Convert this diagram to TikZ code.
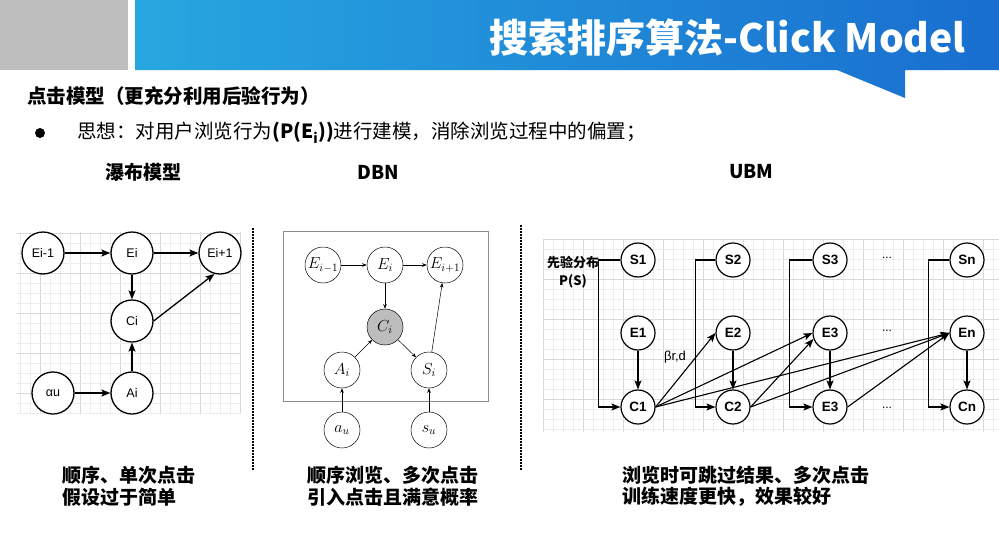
\documentclass[tikz,border=0pt]{standalone}
\usepackage{fix-cm}
\usepackage{fontspec}
\setmainfont{Noto Sans CJK SC}
\newfontfamily\labfont{Liberation Sans}
\usetikzlibrary{arrows.meta}

\definecolor{hdrgray}{HTML}{BEBEBE}
\definecolor{bannerL}{HTML}{27A7E0}
\definecolor{bannerR}{HTML}{196ECF}
\definecolor{gridminor}{HTML}{ECECEC}
\definecolor{gridmajor}{HTML}{D8D8D8}
\definecolor{framegray}{HTML}{8C8C8C}
\definecolor{clickfill}{HTML}{BDBDBD}

\tikzset{
  wnode/.style={circle, draw, line width=1.3pt, minimum size=42pt, inner sep=0pt, fill=white,
    font=\labfont\fontsize{12.5}{14}\selectfont},
  dnode/.style={circle, draw, line width=0.5pt, minimum size=36pt, inner sep=0pt, fill=white,
    font=\fontsize{16}{18}\selectfont},
  unode/.style={circle, draw, line width=1.2pt, minimum size=34pt, inner sep=0pt, fill=white,
    font=\labfont\bfseries\fontsize{13.5}{15}\selectfont},
  warr/.style={-{Stealth[length=9pt,width=7pt,inset=2pt]}, line width=1.3pt},
  uarr/.style={-{Stealth[length=9pt,width=7pt,inset=2pt]}, line width=1.1pt},
  darr/.style={-{Stealth[length=4.5pt,width=3.5pt]}, line width=0.5pt},
  heading/.style={anchor=west, inner sep=0pt, font=\fontsize{19}{22}\selectfont\bfseries},
  caption/.style={anchor=west, inner sep=0pt, font=\fontsize{19}{22}\selectfont\bfseries},
  sep/.style={line width=2pt, dash pattern=on 1.6pt off 1.4pt},
  dots/.style={inner sep=0pt, font=\labfont\fontsize{12}{14}\selectfont},
}

\begin{document}
\begin{tikzpicture}[x=1pt,y=-1pt]
\useasboundingbox (0,0) rectangle (999,533);
\fill[white] (0,0) rectangle (999,533);

% ---------- header ----------
\fill[hdrgray] (0,0) rectangle (128,70);
\shade[left color=bannerL, right color=bannerR]
  (135,0) -- (999,0) -- (999,70) -- (905,70) -- (905,98) -- (837,70) -- (135,70) -- cycle;
\node[anchor=east, inner sep=0pt, text=white, font=\fontsize{39}{44}\selectfont\bfseries]
  (title) at (966,38) {搜索排序算法-Click Model};

\node[anchor=west, inner sep=0pt, font=\fontsize{19.5}{22}\selectfont\bfseries]
  (subtitle) at (27,96) {点击模型（更充分利用后验行为）};

\node[circle, fill=black, minimum size=10pt, inner sep=0pt] (bullet) at (40,133) {};
\node[anchor=west, inner sep=0pt, font=\fontsize{19.5}{22}\selectfont]
  (idea) at (77,133) {思想：对用户浏览行为\textbf{(P(E\textsubscript{i}))}进行建模，消除浏览过程中的偏置；};

\node[heading] (h1) at (105,172) {瀑布模型};
\node[heading] (h2) at (357,172) {DBN};
\node[heading] (h3) at (729,172) {UBM};

% ---------- separators ----------
\coordinate (sepAtop) at (253,228);
\coordinate (sepAbot) at (253,470);
\coordinate (sepBtop) at (521,225);
\coordinate (sepBbot) at (521,470);
\draw[sep] (sepAtop) -- (sepAbot);
\draw[sep] (sepBtop) -- (sepBbot);

% ---------- cascade model ----------
\foreach \x in {20,30,...,240} {
  \pgfmathtruncatemacro{\m}{mod(\x,40)==0 ? 1 : 0}
  \ifnum\m=1 \draw[gridmajor, line width=0.5pt] (\x,232) -- (\x,413);
  \else \draw[gridminor, line width=0.5pt] (\x,232) -- (\x,413); \fi
}
\foreach \y in {233,243,...,413} {
  \pgfmathtruncatemacro{\m}{mod(\y-233,40)==0 ? 1 : 0}
  \ifnum\m=1 \draw[gridmajor, line width=0.5pt] (17,\y) -- (240,\y);
  \else \draw[gridminor, line width=0.5pt] (17,\y) -- (240,\y); \fi
}

\node[wnode] (wEm) at (43,253) {Ei-1};
\node[wnode] (wE)  at (132,253) {Ei};
\node[wnode] (wEp) at (220,253) {Ei+1};
\node[wnode] (wC)  at (132,321) {Ci};
\node[wnode] (wa)  at (53,393) {αu};
\node[wnode] (wA)  at (132,393) {Ai};

\draw[warr] (wEm) -- (wE);
\draw[warr] (wE) -- (wEp);
\draw[warr] (wE) -- (wC);
\draw[warr] (wC.east) -- (wEp.-105);
\draw[warr] (wa) -- (wA);
\draw[warr] (wA) -- (wC);

% ---------- DBN ----------
\node[draw=framegray, line width=0.7pt, minimum width=205pt, minimum height=170pt, inner sep=0pt]
  (frame) at (385.5,316) {};

\node[dnode] (dEm) at (323,265) {$E_{i-1}$};
\node[dnode] (dE)  at (385,265) {$E_i$};
\node[dnode] (dEp) at (445,265) {$E_{i+1}$};
\node[dnode, fill=clickfill] (dC) at (385,327) {$C_i$};
\node[dnode] (dA)  at (342,370) {$A_i$};
\node[dnode] (dS)  at (429,370) {$S_i$};
\node[dnode] (da)  at (342,430) {$a_u$};
\node[dnode] (ds)  at (429,430) {$s_u$};

\draw[darr] (dEm) -- (dE);
\draw[darr] (dE) -- (dEp);
\draw[darr] (dE) -- (dC);
\draw[darr] (dA) -- (dC);
\draw[darr] (dC) -- (dS);
\draw[darr] (dS) -- (dEp);
\draw[darr] (da) -- (dA);
\draw[darr] (ds) -- (dS);

% ---------- UBM ----------
\foreach \x in {543,553,...,999} {
  \pgfmathtruncatemacro{\m}{mod(\x-543,40)==0 ? 1 : 0}
  \ifnum\m=1 \draw[gridmajor, line width=0.5pt] (\x,239) -- (\x,432);
  \else \draw[gridminor, line width=0.5pt] (\x,239) -- (\x,432); \fi
}
\foreach \y in {239,249,...,432} {
  \pgfmathtruncatemacro{\m}{mod(\y-239,40)==0 ? 1 : 0}
  \ifnum\m=1 \draw[gridmajor, line width=0.5pt] (543,\y) -- (999,\y);
  \else \draw[gridminor, line width=0.5pt] (543,\y) -- (999,\y); \fi
}

\node[anchor=center, inner sep=0pt, align=center, font=\fontsize{13}{18}\selectfont\bfseries]
  (prior) at (573,272) {先验分布\\P(S)};

\node[unode] (S1) at (638,260) {S1};
\node[unode] (S2) at (733,260) {S2};
\node[unode] (S3) at (830,260) {S3};
\node[unode] (Sn) at (967,260) {Sn};
\node[unode] (E1) at (638,333) {E1};
\node[unode] (E2) at (733,333) {E2};
\node[unode] (E3) at (830,333) {E3};
\node[unode] (En) at (967,333) {En};
\node[unode] (C1) at (638,407) {C1};
\node[unode] (C2) at (733,407) {C2};
\node[unode] (C3) at (830,407) {E3};
\node[unode] (Cn) at (967,407) {Cn};

\node[dots] (dotS) at (887,258) {...};
\node[dots] (dotE) at (887,331) {...};
\node[dots] (dotC) at (887,408) {...};

\node[anchor=center, inner sep=0pt, font=\labfont\fontsize{13}{14}\selectfont]
  (beta) at (675,357) {βr,d};

\draw[uarr] (S1.west) -- ++(-22,0) |- (C1.west);
\draw[uarr] (S2.west) -- ++(-20,0) |- (C2.west);
\draw[uarr] (S3.west) -- ++(-23,0) |- (C3.west);
\draw[uarr] (Sn.west) -- ++(-21,0) |- (Cn.west);

\draw[uarr] (E1) -- (C1);
\draw[uarr] (E2) -- (C2);
\draw[uarr] (E3) -- (C3);
\draw[uarr] (En) -- (Cn);

\draw[uarr] (C1.east) -- (E2.west);
\draw[uarr] (C1.east) -- (E3.west);
\draw[uarr] (C1.east) -- (En.west);
\draw[uarr] (C2.east) -- (E3.200);
\draw[uarr] (C2.east) -- (En.west);
\draw[uarr] (C3.east) -- (En.west);

% ---------- captions ----------
\node[caption] (c1a) at (62,475) {顺序、单次点击};
\node[caption] (c1b) at (62,497) {假设过于简单};
\node[caption] (c2a) at (307,475) {顺序浏览、多次点击};
\node[caption] (c2b) at (307,497) {引入点击且满意概率};
\node[caption] (c3a) at (622,475) {浏览时可跳过结果、多次点击};
\node[caption] (c3b) at (622,497) {训练速度更快，效果较好};
\end{tikzpicture}
\end{document}
